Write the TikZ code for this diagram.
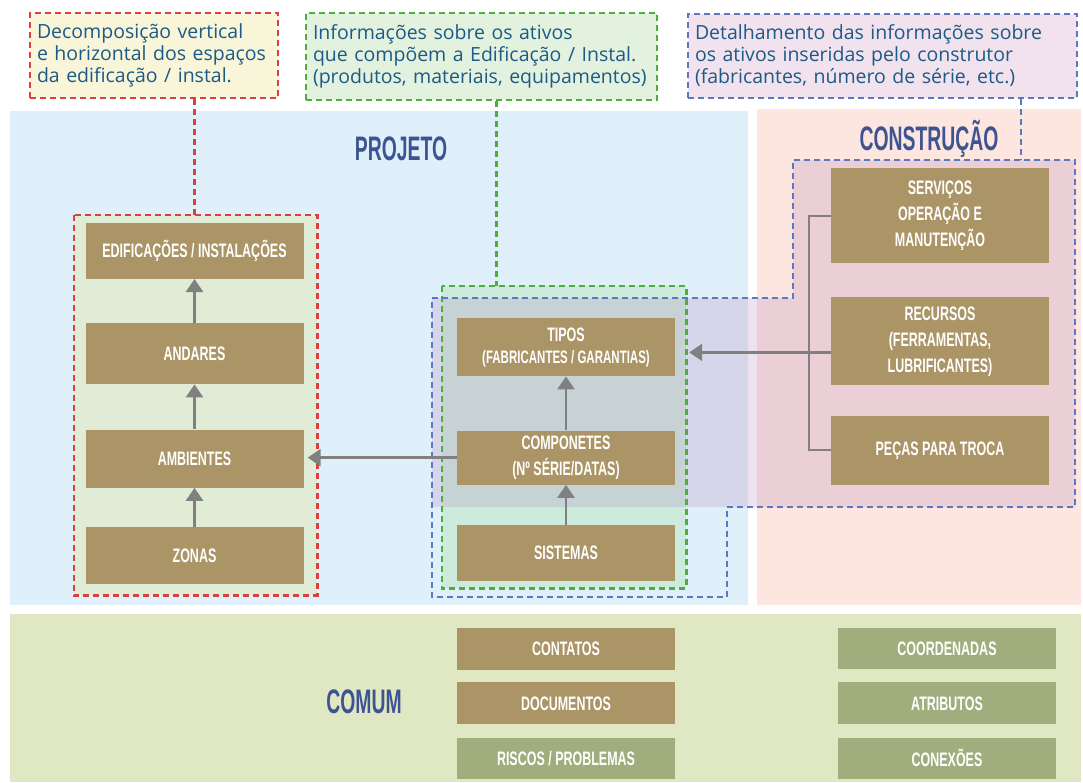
\documentclass[tikz,border=0pt]{standalone}
\usepackage{fontspec}
\setmainfont{Open Sans}
\newfontfamily\boxfont[FakeStretch=0.64]{Liberation Sans}
\newfontfamily\titlefont[FakeStretch=0.57]{Liberation Sans}
\usetikzlibrary{arrows.meta, positioning}

\definecolor{boxbrown}{RGB}{171,148,102}
\definecolor{boxgreen}{RGB}{159,174,124}
\definecolor{bgprojeto}{RGB}{224,240,250}
\definecolor{bgconstr}{RGB}{252,230,223}
\definecolor{bgcomum}{RGB}{224,232,195}
\definecolor{fillespacos}{RGB}{224,236,214}
\definecolor{fillativos}{RGB}{205,235,220}
\definecolor{notered}{RGB}{248,245,216}
\definecolor{notegreen}{RGB}{227,242,222}
\definecolor{noteblue}{RGB}{241,226,238}
\definecolor{notetext}{RGB}{28,90,135}
\definecolor{titleblue}{RGB}{62,83,145}
\definecolor{dashred}{RGB}{217,64,63}
\definecolor{dashgreen}{RGB}{77,174,58}
\definecolor{dashblue}{RGB}{92,120,192}
\definecolor{tint}{RGB}{185,139,192}
\definecolor{arrowgray}{RGB}{128,128,128}

\begin{document}
\begin{tikzpicture}[
    x=1pt, y=-1pt,
    box/.style={fill=boxbrown, text=white, align=center, minimum width=218pt,
                inner sep=2pt, font=\boxfont\bfseries\fontsize{19.5}{26}\selectfont},
    boxg/.style={box, fill=boxgreen},
    zone/.style={line width=2.6pt, dash pattern=on 6pt off 4pt},
    note/.style={zone, align=left, text=notetext, inner xsep=7pt,
                 font=\fontsize{19.5}{22}\selectfont},
    title/.style={text=titleblue, anchor=base,
                  font=\titlefont\bfseries\fontsize{34}{34}\selectfont},
    arrow/.style={-{Triangle[width=17pt, length=13pt]}, line width=2.5pt, arrowgray},
    link/.style={line width=2pt, arrowgray}
]
\useasboundingbox (0,0) rectangle (1083,782);

% the three areas
\fill[bgprojeto] (10,111) rectangle (748,605);
\fill[bgconstr] (757,109) rectangle (1081,605);
\fill[bgcomum] (10,614) rectangle (1081,782);

\node[title] (projeto) at (401,160) {PROJETO};
\node[title] (construcao) at (929,150) {CONSTRUÇÃO};
\node[title] (comum) at (364,713) {COMUM};

% grouped regions
\node[fill=fillespacos, minimum width=243pt, minimum height=380pt] (espacos) at (195.5,405) {};
\node[fill=fillativos, minimum width=244pt, minimum height=302pt] (ativos) at (564,437) {};
\fill[tint, opacity=0.25] (432,298) -- (793,298) -- (793,160) -- (1075,160)
    -- (1075,507) -- (432,507) -- cycle;
\draw[zone, dashred] (espacos.north west) rectangle (espacos.south east);
\draw[zone, dashgreen] (ativos.north west) rectangle (ativos.south east);
\draw[zone, dashblue] (432,298) -- (793,298) -- (793,160) -- (1075,160)
    -- (1075,507) -- (727,507) -- (727,597) -- (432,597) -- cycle;
\coordinate (detalhe) at (1021,160);

% notes
\node[note, draw=dashred, fill=notered, minimum width=248pt, minimum height=85pt,
      text width=234pt] (noteesp) at (154,55.5)
    {\mbox{Decomposição vertical}\\\mbox{e horizontal dos espaços}\\\mbox{da edificação / instal.}};
\node[note, draw=dashgreen, fill=notegreen, minimum width=351pt, minimum height=87pt,
      text width=337pt] (noteativos) at (481.5,56.5)
    {\mbox{Informações sobre os ativos}\\\mbox{que compõem a Edificação / Instal.}\\\mbox{(produtos, materiais, equipamentos)}};
\node[note, draw=dashblue, fill=noteblue, minimum width=389pt, minimum height=84pt,
      text width=375pt] (notedetalhe) at (882.5,56)
    {\mbox{Detalhamento das informações sobre}\\\mbox{os ativos inseridas pelo construtor}\\\mbox{(fabricantes, número de série, etc.)}};

% left column
\node[box, minimum height=57pt] (zonas) at (194.5,555.5) {ZONAS};
\node[box, minimum height=58pt, above=39pt of zonas] (ambientes) {AMBIENTES};
\node[box, minimum height=61pt, above=45pt of ambientes] (andares) {ANDARES};
\node[box, minimum height=56pt, above=44pt of andares] (edif) {EDIFICAÇÕES / INSTALAÇÕES};

% middle column
\node[box, minimum height=56pt] (sistemas) at (566,553) {SISTEMAS};
\node[box, minimum height=54pt, above=40pt of sistemas] (comp) {COMPONETES\\(Nº SÉRIE/DATAS)};
\node[box, minimum height=58pt, above=54pt of comp] (tipos)
    {TIPOS\\[-4pt]{\fontsize{18}{20}\selectfont (FABRICANTES / GARANTIAS)}};

% right column
\node[box, minimum height=95pt] (servicos) at (940,215.5) {SERVIÇOS\\OPERAÇÃO E\\MANUTENÇÃO};
\node[box, minimum height=88pt, below=34pt of servicos] (recursos) {RECURSOS\\(FERRAMENTAS,\\LUBRIFICANTES)};
\node[box, minimum height=69pt, below=30pt of recursos] (pecas) {PEÇAS PARA TROCA};

% common items
\node[box, minimum height=42pt] (contatos) at (566,649) {CONTATOS};
\node[box, minimum height=42pt, below=12pt of contatos] (documentos) {DOCUMENTOS};
\node[boxg, minimum height=41pt, below=13pt of documentos] (riscos) {RISCOS / PROBLEMAS};
\node[boxg, minimum height=41pt] (coordenadas) at (947,648.5) {COORDENADAS};
\node[boxg, minimum height=42pt, below=13pt of coordenadas] (atributos) {ATRIBUTOS};
\node[boxg, minimum height=41pt, below=13pt of atributos] (conexoes) {CONEXÕES};

% note leaders
\draw[zone, dashred] (edif.north |- noteesp.south) -- (edif.north |- espacos.north);
\draw[zone, dashgreen] ([xshift=15pt]noteativos.south) -- ([xshift=15pt]noteativos.south |- ativos.north);
\draw[zone, dashblue] (notedetalhe.south -| detalhe) -- (detalhe);

% arrows
\draw[arrow] (zonas) -- (ambientes);
\draw[arrow] (ambientes) -- (andares);
\draw[arrow] (andares) -- (edif);
\draw[arrow] (sistemas) -- (comp);
\draw[arrow] (comp) -- (tipos);
\draw[arrow, shorten >=4pt] (comp.west) -- (comp.west -| ambientes.east);
\draw[link] (servicos.west) -- ++(-22pt,0) |- (pecas.west);
\draw[arrow, shorten >=14pt] ([yshift=-11pt]recursos.west) -- ([yshift=-11pt]recursos.west -| tipos.east);

\end{tikzpicture}
\end{document}
